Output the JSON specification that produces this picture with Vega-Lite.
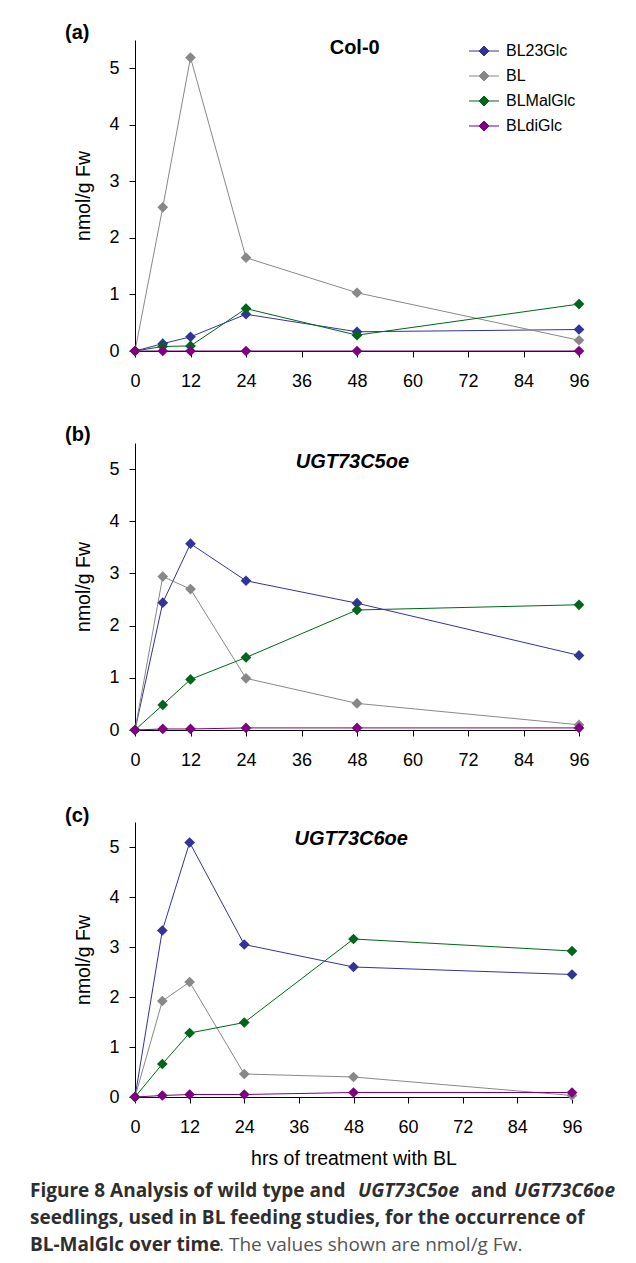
{
  "$schema": "https://vega.github.io/schema/vega-lite/v6.json",
  "padding": {"left": 30, "top": 23, "right": 0, "bottom": 0},
  "bounds": "flush",
  "spacing": 92,
  "datasets": {
    "conc": [
      {"panel": "a", "compound": "BL23Glc", "hrs": 0, "value": 0},
      {"panel": "a", "compound": "BL23Glc", "hrs": 6, "value": 0.13},
      {"panel": "a", "compound": "BL23Glc", "hrs": 12, "value": 0.25},
      {"panel": "a", "compound": "BL23Glc", "hrs": 24, "value": 0.65},
      {"panel": "a", "compound": "BL23Glc", "hrs": 48, "value": 0.34},
      {"panel": "a", "compound": "BL23Glc", "hrs": 96, "value": 0.38},
      {"panel": "a", "compound": "BL", "hrs": 0, "value": 0},
      {"panel": "a", "compound": "BL", "hrs": 6, "value": 2.54},
      {"panel": "a", "compound": "BL", "hrs": 12, "value": 5.19},
      {"panel": "a", "compound": "BL", "hrs": 24, "value": 1.65},
      {"panel": "a", "compound": "BL", "hrs": 48, "value": 1.03},
      {"panel": "a", "compound": "BL", "hrs": 96, "value": 0.19},
      {"panel": "a", "compound": "BLMalGlc", "hrs": 0, "value": 0},
      {"panel": "a", "compound": "BLMalGlc", "hrs": 6, "value": 0.08},
      {"panel": "a", "compound": "BLMalGlc", "hrs": 12, "value": 0.09},
      {"panel": "a", "compound": "BLMalGlc", "hrs": 24, "value": 0.75},
      {"panel": "a", "compound": "BLMalGlc", "hrs": 48, "value": 0.28},
      {"panel": "a", "compound": "BLMalGlc", "hrs": 96, "value": 0.83},
      {"panel": "a", "compound": "BLdiGlc", "hrs": 0, "value": 0},
      {"panel": "a", "compound": "BLdiGlc", "hrs": 6, "value": 0},
      {"panel": "a", "compound": "BLdiGlc", "hrs": 12, "value": 0},
      {"panel": "a", "compound": "BLdiGlc", "hrs": 24, "value": 0},
      {"panel": "a", "compound": "BLdiGlc", "hrs": 48, "value": 0},
      {"panel": "a", "compound": "BLdiGlc", "hrs": 96, "value": 0},
      {"panel": "b", "compound": "BL23Glc", "hrs": 0, "value": 0},
      {"panel": "b", "compound": "BL23Glc", "hrs": 6, "value": 2.44},
      {"panel": "b", "compound": "BL23Glc", "hrs": 12, "value": 3.57},
      {"panel": "b", "compound": "BL23Glc", "hrs": 24, "value": 2.86},
      {"panel": "b", "compound": "BL23Glc", "hrs": 48, "value": 2.43},
      {"panel": "b", "compound": "BL23Glc", "hrs": 96, "value": 1.43},
      {"panel": "b", "compound": "BL", "hrs": 0, "value": 0},
      {"panel": "b", "compound": "BL", "hrs": 6, "value": 2.94},
      {"panel": "b", "compound": "BL", "hrs": 12, "value": 2.7},
      {"panel": "b", "compound": "BL", "hrs": 24, "value": 0.99},
      {"panel": "b", "compound": "BL", "hrs": 48, "value": 0.51},
      {"panel": "b", "compound": "BL", "hrs": 96, "value": 0.1},
      {"panel": "b", "compound": "BLMalGlc", "hrs": 0, "value": 0},
      {"panel": "b", "compound": "BLMalGlc", "hrs": 6, "value": 0.48},
      {"panel": "b", "compound": "BLMalGlc", "hrs": 12, "value": 0.97},
      {"panel": "b", "compound": "BLMalGlc", "hrs": 24, "value": 1.39},
      {"panel": "b", "compound": "BLMalGlc", "hrs": 48, "value": 2.3},
      {"panel": "b", "compound": "BLMalGlc", "hrs": 96, "value": 2.4},
      {"panel": "b", "compound": "BLdiGlc", "hrs": 0, "value": 0},
      {"panel": "b", "compound": "BLdiGlc", "hrs": 6, "value": 0.02},
      {"panel": "b", "compound": "BLdiGlc", "hrs": 12, "value": 0.02},
      {"panel": "b", "compound": "BLdiGlc", "hrs": 24, "value": 0.04},
      {"panel": "b", "compound": "BLdiGlc", "hrs": 48, "value": 0.04},
      {"panel": "b", "compound": "BLdiGlc", "hrs": 96, "value": 0.04},
      {"panel": "c", "compound": "BL23Glc", "hrs": 0, "value": 0},
      {"panel": "c", "compound": "BL23Glc", "hrs": 6, "value": 3.33},
      {"panel": "c", "compound": "BL23Glc", "hrs": 12, "value": 5.09},
      {"panel": "c", "compound": "BL23Glc", "hrs": 24, "value": 3.05},
      {"panel": "c", "compound": "BL23Glc", "hrs": 48, "value": 2.6},
      {"panel": "c", "compound": "BL23Glc", "hrs": 96, "value": 2.45},
      {"panel": "c", "compound": "BL", "hrs": 0, "value": 0},
      {"panel": "c", "compound": "BL", "hrs": 6, "value": 1.92},
      {"panel": "c", "compound": "BL", "hrs": 12, "value": 2.3},
      {"panel": "c", "compound": "BL", "hrs": 24, "value": 0.46},
      {"panel": "c", "compound": "BL", "hrs": 48, "value": 0.4},
      {"panel": "c", "compound": "BL", "hrs": 96, "value": 0.03},
      {"panel": "c", "compound": "BLMalGlc", "hrs": 0, "value": 0},
      {"panel": "c", "compound": "BLMalGlc", "hrs": 6, "value": 0.66},
      {"panel": "c", "compound": "BLMalGlc", "hrs": 12, "value": 1.28},
      {"panel": "c", "compound": "BLMalGlc", "hrs": 24, "value": 1.49},
      {"panel": "c", "compound": "BLMalGlc", "hrs": 48, "value": 3.16},
      {"panel": "c", "compound": "BLMalGlc", "hrs": 96, "value": 2.92},
      {"panel": "c", "compound": "BLdiGlc", "hrs": 0, "value": 0},
      {"panel": "c", "compound": "BLdiGlc", "hrs": 6, "value": 0.03},
      {"panel": "c", "compound": "BLdiGlc", "hrs": 12, "value": 0.05},
      {"panel": "c", "compound": "BLdiGlc", "hrs": 24, "value": 0.05},
      {"panel": "c", "compound": "BLdiGlc", "hrs": 48, "value": 0.09},
      {"panel": "c", "compound": "BLdiGlc", "hrs": 96, "value": 0.09}
    ]
  },
  "resolve": {
    "scale": {"x": "independent", "y": "independent", "fill": "independent", "stroke": "independent"},
    "legend": {"fill": "independent", "stroke": "independent"}
  },
  "vconcat": [
    {
      "width": 444,
      "height": 311,
      "title": {"text": "(a)", "dy": 9},
      "layer": [
        {
          "data": {"name": "conc"},
          "transform": [{"filter": "datum.panel == 'a'"}],
          "mark": {"type": "line", "strokeWidth": 1, "clip": false},
          "encoding": {
            "x": {"field": "hrs", "type": "quantitative", "scale": {"domain": [0, 96], "nice": false}, "axis": {"values": [0, 12, 24, 36, 48, 60, 72, 84, 96], "format": "d", "title": null}},
            "y": {"field": "value", "type": "quantitative", "scale": {"domain": [0, 5.5], "nice": false}, "axis": {"values": [0, 1, 2, 3, 4, 5], "format": "d", "title": "nmol/g Fw"}},
            "stroke": {"field": "compound", "type": "nominal",
              "scale": {"domain": ["BL23Glc", "BL", "BLMalGlc", "BLdiGlc"], "range": ["#333399", "#888888", "#00661a", "#800080"]},
              "legend": {"title": null, "orient": "top-right", "offset": 3}}
          }
        },
        {
          "data": {"name": "conc"},
          "transform": [{"filter": "datum.panel == 'a'"}],
          "mark": {"type": "point", "shape": "diamond", "filled": true, "size": 115, "opacity": 1, "strokeWidth": 0, "clip": false},
          "encoding": {
            "x": {"field": "hrs", "type": "quantitative"},
            "y": {"field": "value", "type": "quantitative"},
            "fill": {"field": "compound", "type": "nominal",
              "scale": {"domain": ["BL23Glc", "BL", "BLMalGlc", "BLdiGlc"], "range": ["#333399", "#888888", "#00661a", "#800080"]},
              "legend": {"title": null, "orient": "top-right", "offset": 3}}
          }
        },
        {
          "data": {"values": [{"label": "Col-0"}]},
          "mark": {"type": "text", "fontSize": 20, "fontWeight": "bold", "baseline": "middle", "font": "Liberation Sans", "color": "#000000"},
          "encoding": {
            "text": {"field": "label", "type": "nominal"},
            "x": {"datum": 47.5, "type": "quantitative"},
            "y": {"datum": 5.35, "type": "quantitative"}
          }
        }
      ]
    },
    {
      "width": 444,
      "height": 287,
      "title": {"text": "(b)", "dy": 6},
      "layer": [
        {
          "data": {"name": "conc"},
          "transform": [{"filter": "datum.panel == 'b'"}],
          "mark": {"type": "line", "strokeWidth": 1, "clip": false},
          "encoding": {
            "x": {"field": "hrs", "type": "quantitative", "scale": {"domain": [0, 96], "nice": false}, "axis": {"values": [0, 12, 24, 36, 48, 60, 72, 84, 96], "format": "d", "title": null}},
            "y": {"field": "value", "type": "quantitative", "scale": {"domain": [0, 5.5], "nice": false}, "axis": {"values": [0, 1, 2, 3, 4, 5], "format": "d", "title": "nmol/g Fw"}},
            "stroke": {"field": "compound", "type": "nominal",
              "scale": {"domain": ["BL23Glc", "BL", "BLMalGlc", "BLdiGlc"], "range": ["#333399", "#888888", "#00661a", "#800080"]},
              "legend": null}
          }
        },
        {
          "data": {"name": "conc"},
          "transform": [{"filter": "datum.panel == 'b'"}],
          "mark": {"type": "point", "shape": "diamond", "filled": true, "size": 115, "opacity": 1, "strokeWidth": 0, "clip": false},
          "encoding": {
            "x": {"field": "hrs", "type": "quantitative"},
            "y": {"field": "value", "type": "quantitative"},
            "fill": {"field": "compound", "type": "nominal",
              "scale": {"domain": ["BL23Glc", "BL", "BLMalGlc", "BLdiGlc"], "range": ["#333399", "#888888", "#00661a", "#800080"]},
              "legend": null}
          }
        },
        {
          "data": {"values": [{"label": "UGT73C5oe"}]},
          "mark": {"type": "text", "fontSize": 20, "fontWeight": "bold", "fontStyle": "italic", "baseline": "middle", "font": "Liberation Sans", "color": "#000000"},
          "encoding": {
            "text": {"field": "label", "type": "nominal"},
            "x": {"datum": 47, "type": "quantitative"},
            "y": {"datum": 5.13, "type": "quantitative"}
          }
        }
      ]
    },
    {
      "width": 437,
      "height": 275,
      "title": {"text": "(c)", "dy": 8},
      "layer": [
        {
          "data": {"name": "conc"},
          "transform": [{"filter": "datum.panel == 'c'"}],
          "mark": {"type": "line", "strokeWidth": 1, "clip": false},
          "encoding": {
            "x": {"field": "hrs", "type": "quantitative", "scale": {"domain": [0, 96], "nice": false}, "axis": {"values": [0, 12, 24, 36, 48, 60, 72, 84, 96], "format": "d", "title": "hrs of treatment with BL"}},
            "y": {"field": "value", "type": "quantitative", "scale": {"domain": [0, 5.5], "nice": false}, "axis": {"values": [0, 1, 2, 3, 4, 5], "format": "d", "title": "nmol/g Fw"}},
            "stroke": {"field": "compound", "type": "nominal",
              "scale": {"domain": ["BL23Glc", "BL", "BLMalGlc", "BLdiGlc"], "range": ["#333399", "#888888", "#00661a", "#800080"]},
              "legend": null}
          }
        },
        {
          "data": {"name": "conc"},
          "transform": [{"filter": "datum.panel == 'c'"}],
          "mark": {"type": "point", "shape": "diamond", "filled": true, "size": 115, "opacity": 1, "strokeWidth": 0, "clip": false},
          "encoding": {
            "x": {"field": "hrs", "type": "quantitative"},
            "y": {"field": "value", "type": "quantitative"},
            "fill": {"field": "compound", "type": "nominal",
              "scale": {"domain": ["BL23Glc", "BL", "BLMalGlc", "BLdiGlc"], "range": ["#333399", "#888888", "#00661a", "#800080"]},
              "legend": null}
          }
        },
        {
          "data": {"values": [{"label": "UGT73C6oe"}]},
          "mark": {"type": "text", "fontSize": 20, "fontWeight": "bold", "fontStyle": "italic", "baseline": "middle", "font": "Liberation Sans", "color": "#000000"},
          "encoding": {
            "text": {"field": "label", "type": "nominal"},
            "x": {"datum": 47.5, "type": "quantitative"},
            "y": {"datum": 5.17, "type": "quantitative"}
          }
        }
      ]
    },
    {
      "width": 437,
      "height": 70,
      "data": {
        "values": [
          {"line": 1, "seg": "s1", "text": "Figure 8 Analysis of wild type and"},
          {"line": 1, "seg": "s2", "text": "UGT73C5oe"},
          {"line": 1, "seg": "s3", "text": "and"},
          {"line": 1, "seg": "s4", "text": "UGT73C6oe"},
          {"line": 2, "seg": "s1", "text": "seedlings, used in BL feeding studies, for the occurrence of"},
          {"line": 3, "seg": "s1", "text": "BL-MalGlc over time"},
          {"line": 3, "seg": "s5", "text": ". The values shown are nmol/g Fw."}
        ]
      },
      "encoding": {
        "x": {"value": 0},
        "y": {"field": "line", "type": "quantitative", "scale": {"domain": [0.704, 3.296], "reverse": true, "nice": false, "zero": false}, "axis": null},
        "text": {"field": "text"}
      },
      "layer": [
        {"transform": [{"filter": "datum.seg == 's1'"}], "mark": {"type": "text", "align": "left", "baseline": "alphabetic", "dx": -105, "font": "Open Sans", "fontSize": 19, "fontWeight": "bold", "color": "#2e2e2e"}},
        {"transform": [{"filter": "datum.seg == 's2'"}], "mark": {"type": "text", "align": "left", "baseline": "alphabetic", "dx": 223, "font": "Open Sans", "fontSize": 19, "fontWeight": "bold", "fontStyle": "italic", "color": "#2e2e2e"}},
        {"transform": [{"filter": "datum.seg == 's3'"}], "mark": {"type": "text", "align": "left", "baseline": "alphabetic", "dx": 336, "font": "Open Sans", "fontSize": 19, "fontWeight": "bold", "color": "#2e2e2e"}},
        {"transform": [{"filter": "datum.seg == 's4'"}], "mark": {"type": "text", "align": "left", "baseline": "alphabetic", "dx": 379, "font": "Open Sans", "fontSize": 19, "fontWeight": "bold", "fontStyle": "italic", "color": "#2e2e2e"}},
        {"transform": [{"filter": "datum.seg == 's5'"}], "mark": {"type": "text", "align": "left", "baseline": "alphabetic", "dx": 84, "font": "Open Sans", "fontSize": 19, "fontWeight": "normal", "color": "#555555"}}
      ]
    }
  ],
  "config": {
    "font": "Liberation Sans",
    "view": {"stroke": null},
    "axis": {
      "grid": false,
      "domainColor": "#000000",
      "tickColor": "#000000",
      "labelColor": "#000000",
      "titleColor": "#000000",
      "labelFont": "Liberation Sans",
      "titleFont": "Liberation Sans",
      "labelFontSize": 18,
      "titleFontSize": 19.5,
      "titleFontWeight": "normal",
      "tickSize": 6,
      "tickWidth": 1,
      "domainWidth": 1
    },
    "axisX": {"labelPadding": 15, "titlePadding": 13, "labelFlush": false},
    "axisY": {"labelPadding": 10, "titlePadding": 15},
    "title": {"font": "Liberation Sans", "fontSize": 20, "fontWeight": "bold", "anchor": "start", "frame": "group", "dx": -70, "offset": 0, "baseline": "alphabetic", "color": "#000000"},
    "legend": {
      "labelFont": "Liberation Sans",
      "labelFontSize": 16,
      "labelColor": "#000000",
      "symbolType": "M-3,0H3M0,-1L1,0L0,1L-1,0Z",
      "symbolSize": 100,
      "symbolStrokeWidth": 1,
      "labelOffset": 14,
      "rowPadding": 9,
      "padding": 0
    }
  }
}
